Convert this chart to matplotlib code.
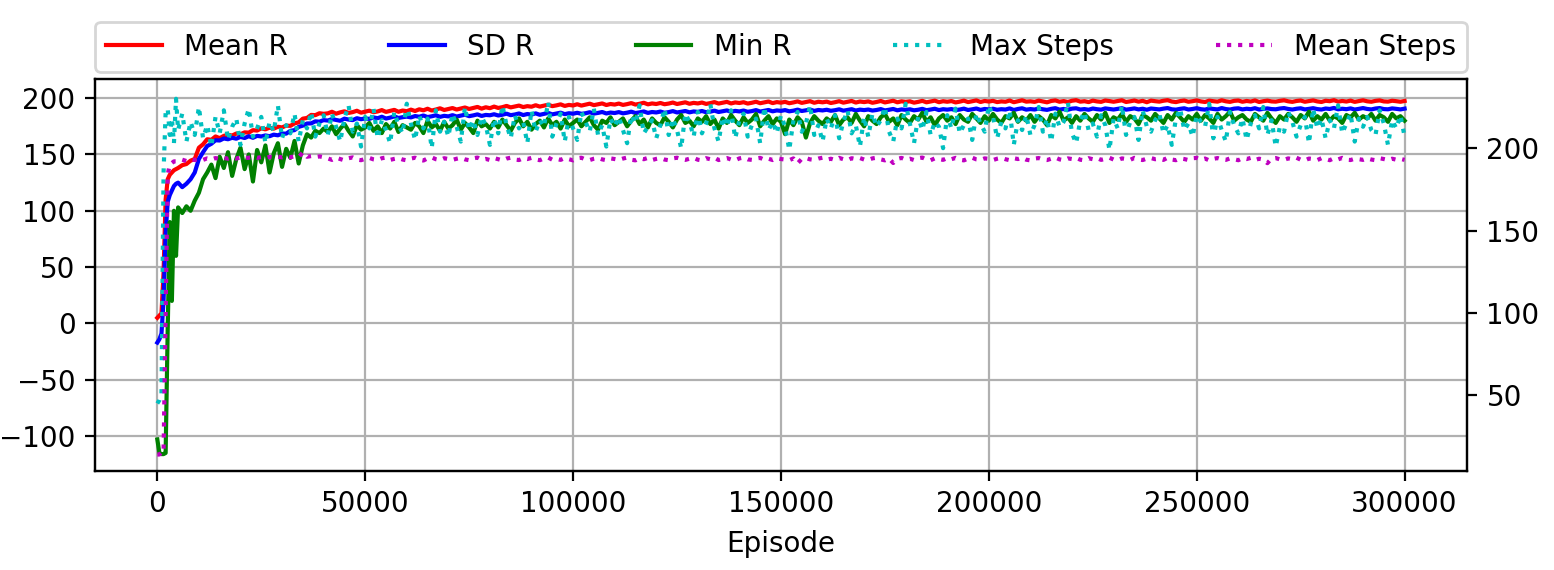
import matplotlib
matplotlib.use("Agg")
import matplotlib.pyplot as plt

# episodes: every 500 for the first 5000, then every 1000
episodes = list(range(0, 5000, 500)) + list(range(5000, 301000, 1000))

mean_r = [
    5, 7, 9, 45, 110, 128, 132, 134, 136, 137,
    # 5000 - 40000
    138, 140.5, 141.5, 144.5, 146, 156, 159, 163.5, 163, 166,
    164.5, 166.5, 167.5, 166.8, 168.6, 168, 169.6, 169.4, 171.6, 171.2,
    173.2, 172.3, 173.8, 172.9, 174.6, 174, 175.6, 175.4, 177.6, 178.5,
    181.8, 182.4, 185.1, 184.9, 186.6, 186.1,
    # 41000 - 300000
    186.5, 187.9, 186.2, 187.4, 188.3, 186.9, 187.6, 188.8, 187.1, 188.0,
    188.9, 187.5, 188.2, 189.4, 187.8, 188.7, 189.6, 187.9, 189.0, 188.4,
    189.8, 188.6, 190.1, 189.2, 190.6, 189.0, 189.9, 191.0, 189.5, 190.3,
    191.2, 189.9, 190.8, 191.7, 190.4, 191.3, 192.2, 190.7, 191.9, 191.1,
    192.5, 191.3, 192.0, 193.1, 191.8, 192.6, 193.4, 192.1, 192.9, 192.4,
    193.7, 192.5, 193.3, 194.2, 192.9, 193.6, 194.5, 193.1, 194.0, 193.5,
    194.6, 193.4, 194.2, 195.1, 193.8, 194.5, 195.3, 193.9, 194.8, 194.3,
    195.2, 194.0, 194.7, 195.6, 194.3, 195.0, 195.9, 194.5, 195.3, 194.8,
    195.7, 194.6, 195.2, 196.1, 194.8, 195.5, 196.3, 195.0, 195.8, 195.3,
    196.1, 194.9, 195.6, 196.5, 195.2, 195.9, 196.7, 195.3, 196.2, 195.7,
    196.4, 195.2, 195.9, 196.8, 195.5, 196.2, 197.0, 195.6, 196.5, 196.0,
    196.7, 195.5, 196.2, 197.1, 195.8, 196.5, 197.3, 195.9, 196.8, 196.3,
    196.9, 195.7, 196.4, 197.3, 196.0, 196.7, 197.5, 196.1, 197.0, 196.5,
    197.1, 195.9, 196.6, 197.5, 196.2, 196.9, 197.7, 196.3, 197.2, 196.7,
    197.2, 196.0, 196.7, 197.6, 196.3, 197.0, 197.8, 196.4, 197.3, 196.8,
    197.4, 196.2, 196.9, 197.8, 196.5, 197.2, 198.0, 196.6, 197.5, 197.0,
    197.6, 196.5, 197.1, 196.8, 197.9, 196.4, 197.3, 198.1, 196.9, 197.2,
    196.7, 197.8, 197.0, 196.3, 197.5, 198.0, 196.8, 197.4, 196.6, 197.7,
    198.2, 196.9, 197.3, 196.5, 197.8, 197.1, 196.7, 197.9, 197.4, 196.8,
    197.5, 198.1, 196.6, 197.2, 197.9, 196.9, 197.6, 196.4, 197.8, 197.3,
    196.9, 197.7, 198.2, 197.0, 196.5, 197.4, 197.9, 196.8, 197.3, 198.0,
    197.1, 196.6, 197.8, 197.3, 196.9, 198.1, 197.2, 196.7, 197.6, 197.9,
    196.8, 197.5, 197.0, 198.0, 196.6, 197.3, 197.8, 197.1, 196.9, 197.6,
    198.1, 197.2, 196.7, 197.5, 197.9, 196.8, 197.4, 198.0, 197.1, 196.6,
    197.7, 197.3, 198.2, 196.9, 197.5, 197.0, 197.8, 196.7, 197.4, 198.1,
    197.2, 196.8, 197.6, 198.0, 197.1, 196.9, 197.7, 197.3, 196.8, 197.5,
]

sd_r = [
    -17, -14, -9, 20, 80, 108, 114, 118, 122, 124,
    125, 121, 124, 128, 134, 146, 152, 157.5, 159.5, 162.6,
    162.4, 164.2, 163.5, 164.8, 164, 165.6, 164.6, 166.2, 164.8, 166.5,
    166, 166.9, 166.2, 167.6, 167, 168.6, 168.5, 171, 171.6, 174.5,
    175.6, 177.5, 177.6, 179.4, 179.1, 180.5,
    180.1, 181.4, 180.7, 179.9, 181.8, 181.0, 180.5, 182.2, 181.3, 182.0,
    181.6, 182.9, 182.2, 183.5, 181.9, 182.7, 183.8, 182.4, 183.1, 183.6,
    182.9, 184.1, 183.5, 184.6, 183.2, 183.9, 184.8, 183.4, 184.3, 183.8,
    184.9, 183.7, 184.5, 185.3, 184.0, 184.7, 185.6, 184.2, 185.1, 184.8,
    185.7, 184.6, 185.3, 186.2, 184.9, 185.5, 186.4, 185.0, 185.9, 185.4,
    186.5, 185.2, 186.0, 186.9, 185.6, 186.3, 187.1, 185.8, 186.6, 186.2,
    187.0, 186.1, 186.6, 187.5, 186.3, 186.9, 187.7, 186.4, 187.2, 186.8,
    187.6, 186.5, 187.1, 188.0, 186.8, 187.4, 188.2, 186.9, 187.7, 187.3,
    188.1, 187.0, 187.6, 188.5, 187.3, 187.9, 188.6, 187.4, 188.2, 187.8,
    188.6, 187.5, 188.0, 188.9, 187.7, 188.4, 189.1, 187.9, 188.7, 188.2,
    189.0, 187.9, 188.5, 189.4, 188.1, 188.8, 189.5, 188.3, 189.1, 188.7,
    189.4, 188.3, 188.9, 189.8, 188.6, 189.2, 189.9, 188.7, 189.5, 189.1,
    189.7, 188.8, 189.3, 190.1, 188.9, 189.5, 190.2, 189.0, 189.8, 189.4,
    189.9, 189.0, 189.5, 190.3, 189.1, 189.7, 190.4, 189.2, 190.0, 189.6,
    190.1, 189.2, 189.7, 190.5, 189.3, 189.9, 190.6, 189.4, 190.2, 189.8,
    190.3, 189.4, 189.9, 190.7, 189.5, 190.1, 190.8, 189.6, 190.4, 190.0,
    190.6, 189.7, 190.2, 189.9, 190.9, 189.5, 190.4, 191.0, 189.8, 190.3,
    189.9, 190.8, 190.1, 189.6, 190.5, 191.1, 189.8, 190.4, 189.7, 190.7,
    191.0, 189.9, 190.3, 189.7, 190.8, 190.2, 189.8, 190.9, 190.4, 189.9,
    190.5, 191.1, 189.8, 190.3, 190.9, 190.0, 190.6, 189.7, 190.8, 190.4,
    190.0, 190.7, 191.2, 190.1, 189.8, 190.5, 191.0, 189.9, 190.4, 191.1,
    190.2, 189.8, 190.9, 190.4, 190.0, 191.2, 190.3, 189.9, 190.7, 191.0,
    190.0, 190.6, 190.2, 191.1, 189.9, 190.5, 190.9, 190.3, 190.1, 190.8,
    191.2, 190.4, 189.9, 190.6, 191.0, 190.0, 190.5, 191.1, 190.3, 189.9,
    190.8, 190.4, 191.3, 190.1, 190.6, 190.2, 190.9, 189.9, 190.5, 191.2,
    190.4, 190.0, 190.8, 191.2, 190.3, 190.1, 190.9, 190.5, 190.0, 190.7,
]

min_r = [
    -103, -115, -116, -116, -115, -5, 90, 20, 100, 60,
    103, 98, 104, 100, 109, 116, 128, 134, 141, 129,
    148, 138, 152, 131, 146, 156, 137, 150, 126, 154,
    143, 158, 134, 151, 160, 139, 155, 147, 162, 142,
    158, 168, 165, 171, 169, 173,
    170, 175, 168, 173, 177, 171, 166, 176, 172, 174,
    178, 171, 175, 169, 177, 173, 179, 170, 176, 174,
    172, 178, 175, 169, 180, 174, 177, 171, 179, 173,
    176, 181, 172, 178, 174, 169, 180, 175, 177, 173,
    179, 174, 181, 176, 171, 178, 182, 175, 179, 172,
    177, 180, 174, 182, 176, 179, 173, 181, 175, 178,
    181, 175, 179, 183, 176, 172, 180, 178, 183, 176,
    179, 182, 175, 180, 184, 177, 181, 174, 182, 178,
    176, 183, 179, 174, 181, 185, 178, 180, 175, 182,
    179, 184, 177, 181, 173, 182, 178, 185, 180, 176,
    183, 178, 181, 186, 175, 180, 184, 177, 182, 179,
    168, 181, 176, 183, 179, 165, 178, 184, 180, 177,
    182, 179, 185, 176, 181, 183, 178, 186, 180, 175,
    184, 180, 177, 183, 186, 179, 182, 176, 185, 181,
    178, 184, 181, 187, 179, 183, 176, 182, 185, 180,
    183, 177, 185, 181, 179, 186, 182, 178, 184, 180,
    186, 181, 178, 184, 182, 187, 179, 183, 180, 185,
    179, 184, 181, 176, 185, 182, 188, 180, 183, 178,
    184, 180, 186, 182, 179, 185, 181, 187, 178, 183,
    181, 186, 179, 184, 182, 177, 185, 183, 180, 186,
    182, 178, 185, 181, 187, 183, 179, 184, 181, 186,
    180, 185, 182, 178, 186, 181, 184, 188, 180, 183,
    185, 181, 179, 186, 183, 180, 187, 182, 178, 184,
    181, 186, 183, 179, 185, 182, 188, 180, 184, 181,
    186, 180, 184, 182, 178, 185, 183, 187, 181, 184,
    182, 186, 180, 185, 183, 179, 186, 182, 184, 180,
]

max_steps = [
    45, 47, 51, 185, 222, 224, 208, 218, 203, 230,
    211, 221, 204, 216, 208, 225, 206, 214, 201, 219,
    209, 223, 205, 213, 218, 202, 215, 224, 207, 212,
    219, 203, 216, 210, 226, 206, 214, 209, 221, 204,
    217, 212, 222, 207, 215, 220,
    208, 221, 213, 204, 218, 226, 210, 215, 201, 219,
    212, 224, 206, 217, 211, 203, 222, 214, 209, 227,
    215, 205, 220, 212, 218, 200, 223, 210, 216, 207,
    221, 213, 204, 225, 211, 217, 208, 219, 214, 202,
    218, 209, 226, 214, 206, 220, 212, 216, 203, 223,
    210, 217, 213, 228, 207, 215, 221, 204, 219, 212,
    205, 222, 216, 210, 224, 208, 214, 201, 218, 213,
    219, 211, 203, 220, 215, 226, 209, 213, 217, 206,
    214, 224, 208, 218, 211, 200, 221, 216, 207, 222,
    209, 215, 227, 212, 204, 219, 213, 223, 206, 217,
    221, 207, 214, 218, 203, 225, 211, 216, 209, 220,
    213, 199, 217, 222, 210, 215, 226, 208, 214, 204,
    218, 212, 220, 206, 216, 223, 209, 214, 201, 219,
    207, 221, 213, 217, 225, 210, 204, 218, 212, 227,
    215, 203, 219, 211, 222, 208, 216, 213, 200, 220,
    212, 224, 209, 214, 218, 205, 221, 215, 210, 226,
    219, 206, 216, 212, 223, 202, 217, 211, 220, 208,
    214, 225, 210, 218, 204, 221, 213, 216, 228, 209,
    203, 217, 222, 211, 215, 207, 220, 214, 199, 218,
    212, 226, 208, 216, 219, 205, 223, 213, 210, 217,
    221, 209, 214, 202, 218, 224, 211, 215, 207, 220,
    216, 213, 227, 206, 219, 211, 204, 222, 214, 209,
    218, 205, 215, 220, 212, 225, 208, 217, 201, 213,
    210, 222, 216, 207, 214, 219, 203, 224, 212, 218,
    206, 217, 212, 226, 209, 215, 221, 204, 218, 213,
    219, 211, 208, 223, 215, 202, 217, 212, 220, 207,
]

mean_steps = [
    14, 14, 15, 15, 100, 184, 190, 191, 192, 192,
    192.5, 193.0, 192.2, 193.4, 192.8, 193.5, 192.9, 193.8, 193.2, 194.0,
    193.4, 194.1, 193.6, 194.3, 193.7, 194.4, 193.9, 194.2, 194.8, 194.1,
    194.6, 194.0, 194.7, 194.3, 194.9, 194.4, 195.0, 194.5, 195.1, 194.6,
    197.5, 194.8, 195.2, 194.6, 195.0, 194.5,
    193.8, 192.9, 194.2, 193.4, 192.6, 193.9, 194.4, 193.1, 192.7, 193.6,
    194.1, 193.2, 192.8, 193.9, 194.3, 192.9, 193.5, 194.0, 193.1, 192.6,
    193.7, 194.2, 193.0, 192.5, 193.8, 194.4, 193.3, 192.8, 193.9, 193.4,
    192.9, 193.6, 194.1, 193.2, 192.7, 193.8, 194.3, 193.0, 193.5, 192.8,
    194.0, 193.3, 192.6, 193.7, 194.2, 193.1, 192.8, 193.9, 193.4, 194.1,
    193.2, 192.7, 193.8, 194.3, 193.0, 193.5, 192.9, 194.0, 193.3, 192.6,
    193.9, 194.2, 193.1, 192.8, 193.6, 194.1, 193.2, 192.7, 193.8, 193.4,
    192.9, 193.7, 194.3, 193.0, 192.6, 193.9, 193.3, 194.1, 192.8, 193.5,
    194.0, 193.1, 192.7, 193.8, 194.2, 193.4, 192.9, 193.6, 194.1, 193.0,
    192.6, 193.9, 193.3, 194.2, 192.8, 193.5, 194.0, 193.1, 192.7, 193.8,
    194.3, 193.2, 192.9, 193.7, 194.1, 193.0, 193.6, 192.8, 193.9, 193.4,
    193.1, 192.7, 193.8, 190.8, 193.5, 194.0, 193.2, 192.9, 193.7, 194.2,
    193.0, 193.6, 192.8, 194.1, 193.3, 192.7, 193.9, 193.4, 194.0, 193.1,
    192.9, 193.8, 194.2, 193.2, 192.6, 193.7, 191.0, 193.5, 194.1, 193.0,
    193.6, 192.8, 193.9, 194.3, 193.1, 192.7, 193.8, 193.4, 192.9, 194.0,
    193.3, 194.1, 193.0, 192.6, 193.7, 194.2, 193.2, 192.9, 193.8, 193.5,
    192.8, 193.6, 194.1, 193.3, 192.7, 193.9, 193.4, 194.2, 193.0, 192.6,
    193.7, 194.0, 193.1, 192.8, 193.6, 194.3, 193.2, 192.7, 193.8, 193.4,
    194.1, 193.0, 192.6, 193.9, 193.3, 194.0, 192.9, 193.5, 194.2, 193.1,
    192.7, 193.8, 193.4, 192.9, 194.1, 193.2, 192.8, 193.7, 194.0, 193.3,
    193.6, 192.9, 194.2, 193.1, 192.7, 193.8, 193.4, 192.8, 193.9, 194.1,
    193.0, 193.7, 192.6, 193.5, 194.0, 193.2, 192.9, 193.8, 193.3, 192.7,
    193.9, 193.4, 194.1, 192.8, 193.6, 193.1, 190.9, 193.7, 194.0, 193.2,
    192.9, 193.8, 193.3, 194.2, 193.0, 192.6, 193.7, 193.4, 192.8, 193.9,
    193.5, 192.7, 193.9, 193.2, 194.1, 193.0, 192.8, 193.6, 193.3, 192.9,
    193.8, 193.1, 192.7, 193.9, 193.4, 192.8, 193.6, 193.0, 193.5, 192.9,
]

fig = plt.figure(figsize=(7.77, 2.85), dpi=200)
ax1 = fig.add_axes([0.0611, 0.1737, 0.8829, 0.6877])
ax2 = ax1.twinx()

l1, = ax1.plot(episodes, mean_r, color="r", label="Mean R")
l2, = ax1.plot(episodes, sd_r, color="b", label="SD R")
l3, = ax1.plot(episodes, min_r, color="g", label="Min R")
l4, = ax2.plot(episodes, max_steps, color="c", linestyle=":", label="Max Steps")
l5, = ax2.plot(episodes, mean_steps, color="m", linestyle=":", label="Mean Steps")

ax1.set_xlabel("Episode")
ax1.set_ylim(-131, 217)
ax1.grid(True)
ax2.set_ylim(4, 242)
ax2.set_yticks([50, 100, 150, 200])

handles = [l1, l2, l3, l4, l5]
ax1.legend(handles, [h.get_label() for h in handles],
           bbox_to_anchor=(0, 1.018, 1, 0.1), loc="lower left",
           ncol=5, mode="expand", borderaxespad=0)

fig.savefig("out.png", dpi=200)
